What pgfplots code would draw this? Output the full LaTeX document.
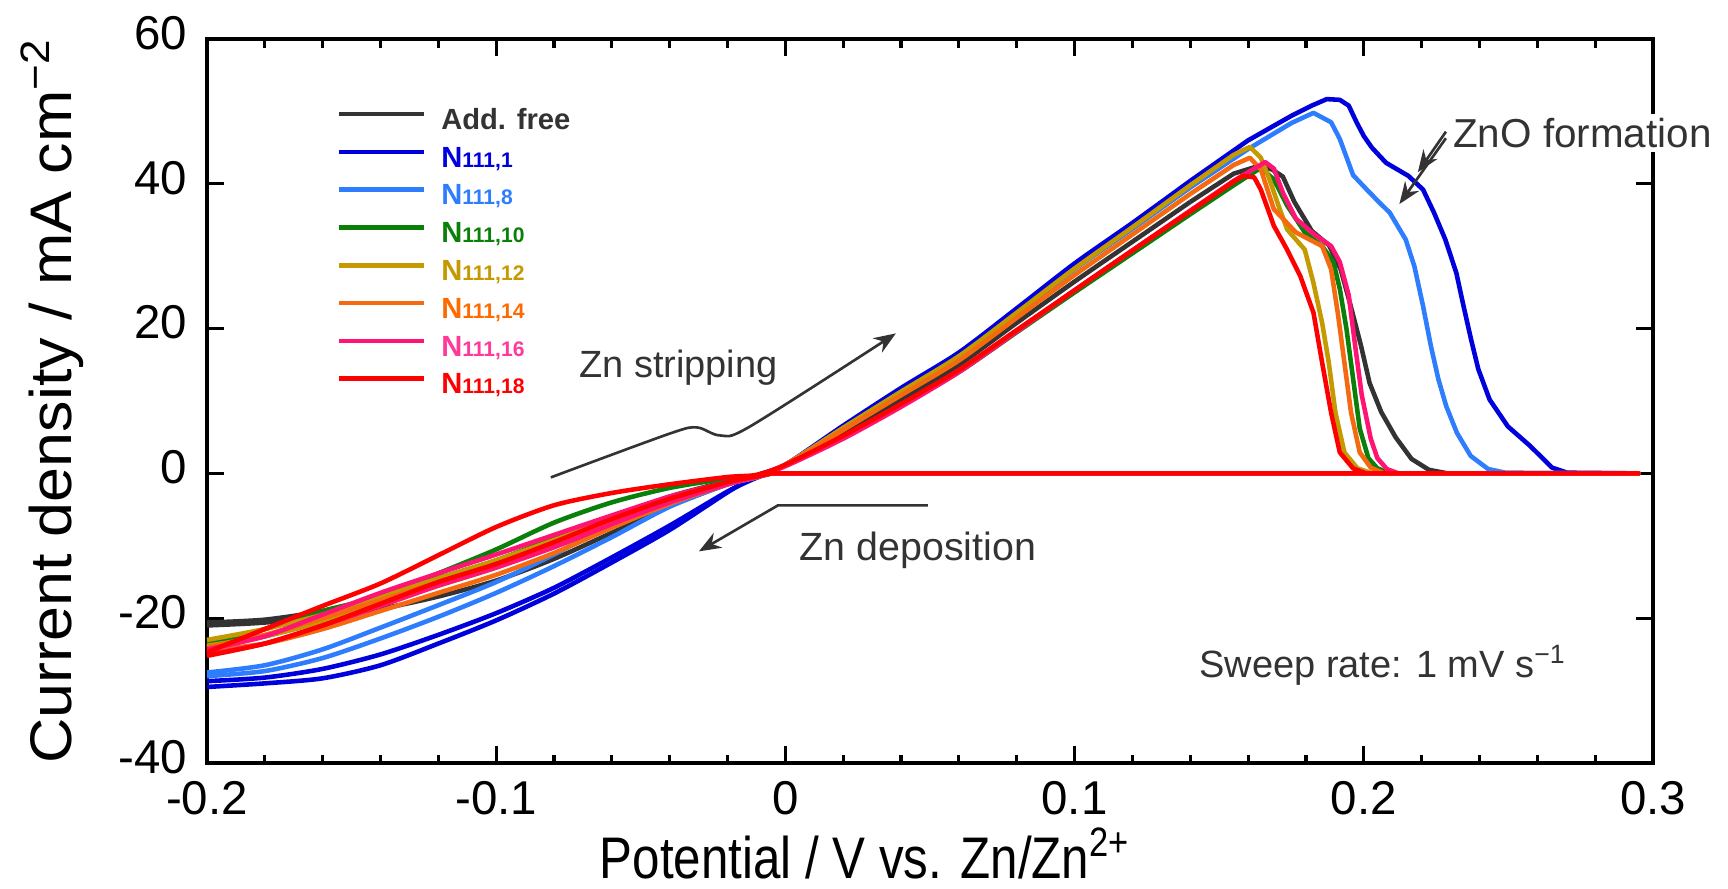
\documentclass[border=0pt]{standalone}
\usepackage{fontspec}
\setmainfont{Liberation Sans}
\usepackage{pgfplots}
\pgfplotsset{compat=1.18}
\usetikzlibrary{arrows.meta}

\definecolor{cAF}{HTML}{333333}
\definecolor{cN1}{HTML}{0000DD}
\definecolor{cN8}{HTML}{2E7DFF}
\definecolor{cN10}{HTML}{0A800A}
\definecolor{cN12}{HTML}{C49A00}
\definecolor{cN14}{HTML}{F56A10}
\definecolor{cN16}{HTML}{FF1473}
\definecolor{cN18}{HTML}{FF0000}
\definecolor{tN16}{HTML}{FF3A9A}
\definecolor{tN14}{HTML}{FF6A00}
\definecolor{annot}{HTML}{333333}

\newcommand\sub[1]{{\fontsize{6}{6}\selectfont #1}}

\begin{document}
\begin{tikzpicture}
\begin{axis}[
  at={(0,0)}, anchor=south west,
  scale only axis, width=14.46cm, height=7.24cm,
  xmin=-0.2, xmax=0.3, ymin=-40, ymax=60,
  xtick={-0.2,-0.1,0,0.1,0.2,0.3},
  xticklabels={-0.2,-0.1,0,0.1,0.2,0.3},
  minor x tick num=4,
  ytick={-40,-20,0,20,40,60},
  yticklabels={-40,-20,0,20,40,60},
  tick align=inside,
  major tick length=1.7mm, minor tick length=0.85mm,
  axis line style={line width=1.1pt},
  every tick/.style={line width=0.9pt, black},
  tick label style={font=\fontsize{13.5}{15}\selectfont},
  xticklabel style={anchor=base, yshift=-5.1mm},
  yticklabel style={inner sep=0pt, xshift=-1.9mm, yshift=0.6mm},
  label style={font=\fontsize{16.7}{19}\selectfont},
  xlabel={\scalebox{0.84}[1]{Potential / V vs. Zn/Zn\textsuperscript{2+}}},
  xlabel style={at={(axis description cs:0.455,-0.159)}, anchor=base},
  ylabel={\scalebox{1.07}[1]{Current density / mA cm\textsuperscript{−2}}},
  ylabel style={at={(axis description cs:-0.107,0.5)}, anchor=center},
  clip=false,
  every axis plot/.append style={no markers, line width=1.3pt, line join=round},
  legend cell align=left,
  legend image code/.code={\draw[#1] (0mm,1.05mm) -- (8.5mm,1.05mm);},
  legend style={at={(axis description cs:0.0892,0.9088)}, anchor=north west,
    draw=none, fill=none, inner sep=0pt, row sep=0pt, column sep=1.5mm,
    font=\fontsize{8.3}{9}\selectfont\bfseries,
    nodes={inner sep=0pt, text height=2.35mm, text depth=1.43mm}},
  sm/.style={smooth, tension=0.45},
]

% Add. free
\addplot[cAF, sm] coordinates {
 (-0.200,-21.0) (-0.180,-20.6) (-0.160,-19.7) (-0.140,-18.7) (-0.120,-17.0) (-0.100,-14.8)
 (-0.080,-11.8) (-0.060,-8.2) (-0.040,-4.5) (-0.020,-1.5) (-0.010,-0.5)
 (0.000,1.2) (0.020,5.6) (0.040,10.2) (0.060,15.0) (0.080,20.8) (0.100,26.5) (0.120,32.0)
 (0.140,37.5)};
\addlegendentry{\textcolor{cAF}{Add. free}}
\addplot[cAF, forget plot] coordinates {
 (0.140,37.5) (0.155,41.4) (0.1631,42.4)
 (0.1682,42.0) (0.1720,41.0) (0.1760,37.5) (0.1820,33.5) (0.1880,31.5) (0.1920,28.2)
 (0.1955,23.1) (0.1990,17.7) (0.2020,12.5) (0.2060,8.5) (0.2110,5.0) (0.2165,2.0)
 (0.2225,0.5) (0.2290,0) (0.295,0) (-0.005,0)};
\addplot[cAF, sm, forget plot] coordinates {
 (-0.005,0) (-0.010,-0.4) (-0.020,-1.1) (-0.040,-3.2) (-0.060,-6.2) (-0.080,-9.3) (-0.100,-12.2)
 (-0.120,-14.8) (-0.140,-17.0) (-0.160,-19.0) (-0.180,-20.2) (-0.200,-20.6)};

% N111,1
\addplot[cN1, sm] coordinates {
 (-0.200,-29.5) (-0.180,-29.0) (-0.160,-28.3) (-0.140,-26.5) (-0.120,-23.5) (-0.100,-20.3)
 (-0.080,-16.6) (-0.060,-12.3) (-0.040,-7.8) (-0.020,-2.6) (-0.010,-0.3)
 (0.000,1.2) (0.020,6.6) (0.040,11.8) (0.060,16.7) (0.080,22.8) (0.100,29.0) (0.120,34.6)
 (0.140,40.4)};
\addlegendentry{\textcolor{cN1}{N\sub{111,1}}}
\addplot[cN1, forget plot] coordinates {
 (0.140,40.4) (0.160,46.0) (0.175,49.4) (0.182,50.8) (0.1872,51.7) (0.1917,51.6) (0.1948,50.8)
 (0.1975,48.5) (0.2000,46.6) (0.2028,45.0) (0.2077,42.9) (0.2154,41.1) (0.2205,39.2)
 (0.2243,36.0) (0.2282,32.3) (0.2320,27.7) (0.2345,23.1) (0.2371,18.5) (0.2396,14.4)
 (0.2435,10.2) (0.2498,6.5) (0.2575,3.8) (0.2651,0.8) (0.2703,0.1) (0.295,0) (-0.005,0)};
\addplot[cN1, sm, forget plot] coordinates {
 (-0.005,0) (-0.010,-0.6) (-0.020,-2.5) (-0.040,-7.2) (-0.060,-11.6) (-0.080,-15.8) (-0.100,-19.3)
 (-0.120,-22.3) (-0.140,-25.0) (-0.160,-27.0) (-0.180,-28.2) (-0.200,-28.7)};

% N111,8
\addplot[cN8, sm] coordinates {
 (-0.200,-28.0) (-0.180,-27.3) (-0.160,-25.5) (-0.140,-22.8) (-0.120,-19.8) (-0.100,-16.5)
 (-0.080,-12.8) (-0.060,-8.8) (-0.040,-4.6) (-0.020,-1.5) (-0.010,-0.5)
 (0.000,1.2) (0.020,6.2) (0.040,11.2) (0.060,16.0) (0.080,22.0) (0.100,28.2) (0.120,33.8)
 (0.140,39.5)};
\addlegendentry{\textcolor{cN8}{N\sub{111,8}}}
\addplot[cN8, forget plot] coordinates {
 (0.140,39.5) (0.160,44.8) (0.175,48.4) (0.1826,49.8)
 (0.1887,48.5) (0.1917,46.2) (0.1963,41.2) (0.2008,39.3) (0.2047,37.7) (0.2090,36.0)
 (0.2145,32.3) (0.2175,28.6) (0.2205,23.1) (0.2232,17.6) (0.2258,13.0) (0.2285,9.3)
 (0.2322,5.6) (0.2370,2.4) (0.2430,0.6) (0.2490,0.1) (0.295,0) (-0.005,0)};
\addplot[cN8, sm, forget plot] coordinates {
 (-0.005,0) (-0.010,-0.4) (-0.020,-1.2) (-0.040,-3.6) (-0.060,-7.0) (-0.080,-11.2) (-0.100,-15.0)
 (-0.120,-18.2) (-0.140,-21.3) (-0.160,-24.3) (-0.180,-26.5) (-0.200,-27.5)};

% N111,10
\addplot[cN10, sm] coordinates {
 (-0.200,-23.5) (-0.180,-21.5) (-0.160,-19.0) (-0.140,-17.0) (-0.120,-13.8) (-0.100,-10.5)
 (-0.080,-6.8) (-0.060,-4.0) (-0.040,-2.0) (-0.020,-0.7) (-0.010,-0.3)
 (0.000,1.1) (0.020,5.0) (0.040,9.4) (0.060,14.0) (0.080,19.5) (0.100,25.0) (0.120,30.4)
 (0.140,35.8)};
\addlegendentry{\textcolor{cN10}{N\sub{111,10}}}
\addplot[cN10, forget plot] coordinates {
 (0.140,35.8) (0.155,39.8) (0.1644,42.2)
 (0.1689,40.6) (0.1735,37.0) (0.1796,33.3) (0.1856,31.4) (0.1895,29.2) (0.1917,25.5)
 (0.1940,20.0) (0.1963,13.1) (0.1986,6.2) (0.2016,2.1) (0.2047,0.7) (0.2090,0)
 (0.295,0) (-0.005,0)};
\addplot[cN10, sm, forget plot] coordinates {
 (-0.005,0) (-0.010,-0.4) (-0.020,-1.2) (-0.040,-3.3) (-0.060,-6.0) (-0.080,-9.0) (-0.100,-12.0)
 (-0.120,-14.5) (-0.140,-17.3) (-0.160,-20.0) (-0.180,-22.5) (-0.200,-24.0)};

% N111,12
\addplot[cN12, sm] coordinates {
 (-0.200,-23.0) (-0.180,-21.5) (-0.160,-19.5) (-0.140,-17.0) (-0.120,-14.5) (-0.100,-12.0)
 (-0.080,-9.2) (-0.060,-6.3) (-0.040,-3.6) (-0.020,-1.4) (-0.010,-0.5)
 (0.000,1.2) (0.020,6.3) (0.040,11.3) (0.060,16.2) (0.080,22.2) (0.100,28.3) (0.120,34.0)
 (0.140,39.8)};
\addlegendentry{\textcolor{cN12}{N\sub{111,12}}}
\addplot[cN12, forget plot] coordinates {
 (0.140,39.8) (0.155,44.0) (0.1606,45.1)
 (0.1644,43.6) (0.1674,40.6) (0.1705,37.0) (0.1735,33.7) (0.1796,30.9) (0.1826,26.3)
 (0.1856,20.8) (0.1879,15.3) (0.1902,8.4) (0.1933,2.9) (0.1978,0.7) (0.2030,0)
 (0.295,0) (-0.005,0)};
\addplot[cN12, sm, forget plot] coordinates {
 (-0.005,0) (-0.010,-0.5) (-0.020,-1.4) (-0.040,-3.8) (-0.060,-6.8) (-0.080,-10.0) (-0.100,-13.0)
 (-0.120,-15.5) (-0.140,-18.0) (-0.160,-20.5) (-0.180,-22.5) (-0.200,-23.8)};

% N111,14
\addplot[cN14, sm] coordinates {
 (-0.200,-24.5) (-0.180,-23.5) (-0.160,-21.5) (-0.140,-19.0) (-0.120,-16.5) (-0.100,-14.0)
 (-0.080,-11.0) (-0.060,-7.5) (-0.040,-4.2) (-0.020,-1.5) (-0.010,-0.5)
 (0.000,1.2) (0.020,6.0) (0.040,10.8) (0.060,15.6) (0.080,21.5) (0.100,27.4) (0.120,33.0)
 (0.140,38.6)};
\addlegendentry{\textcolor{tN14}{N\sub{111,14}}}
\addplot[cN14, forget plot] coordinates {
 (0.140,38.6) (0.155,42.6) (0.1606,43.6)
 (0.1644,42.0) (0.1689,36.5) (0.1765,33.3) (0.1856,31.4) (0.1887,28.2) (0.1910,22.2)
 (0.1933,15.3) (0.1956,8.4) (0.1986,2.9) (0.2024,0.8) (0.2070,0)
 (0.295,0) (-0.005,0)};
\addplot[cN14, sm, forget plot] coordinates {
 (-0.005,0) (-0.010,-0.4) (-0.020,-1.3) (-0.040,-3.6) (-0.060,-6.5) (-0.080,-9.6) (-0.100,-12.5)
 (-0.120,-15.0) (-0.140,-17.5) (-0.160,-20.0) (-0.180,-22.3) (-0.200,-24.0)};

% N111,16
\addplot[cN16, sm] coordinates {
 (-0.200,-24.3) (-0.180,-22.5) (-0.160,-19.5) (-0.140,-16.5) (-0.120,-13.8) (-0.100,-11.2)
 (-0.080,-8.5) (-0.060,-5.8) (-0.040,-3.2) (-0.020,-1.2) (-0.010,-0.4)
 (0.000,1.0) (0.020,4.8) (0.040,9.2) (0.060,14.0) (0.080,19.6) (0.100,25.3) (0.120,30.8)
 (0.140,36.3)};
\addlegendentry{\textcolor{tN16}{N\sub{111,16}}}
\addplot[cN16, forget plot] coordinates {
 (0.140,36.3) (0.155,40.4) (0.1659,43.0)
 (0.1689,42.1) (0.1720,38.8) (0.1765,35.2) (0.1826,33.1) (0.1887,31.4) (0.1917,29.2)
 (0.1948,24.6) (0.1970,17.7) (0.1993,10.8) (0.2024,4.8) (0.2047,2.1) (0.2080,0.6)
 (0.2120,0) (0.295,0) (-0.005,0)};
\addplot[cN16, sm, forget plot] coordinates {
 (-0.005,0) (-0.010,-0.5) (-0.020,-1.5) (-0.040,-4.0) (-0.060,-7.0) (-0.080,-10.2) (-0.100,-13.0)
 (-0.120,-15.5) (-0.140,-18.3) (-0.160,-21.0) (-0.180,-23.5) (-0.200,-25.0)};

% N111,18
\addplot[cN18, sm] coordinates {
 (-0.200,-24.7) (-0.180,-21.5) (-0.160,-18.3) (-0.140,-15.2) (-0.120,-11.3) (-0.100,-7.4)
 (-0.080,-4.4) (-0.060,-2.7) (-0.040,-1.5) (-0.020,-0.5) (-0.010,-0.2)
 (0.000,1.2) (0.020,5.2) (0.040,9.6) (0.060,14.3) (0.080,19.8) (0.100,25.3) (0.120,30.8)
 (0.140,36.2)};
\addlegendentry{\textcolor{cN18}{N\sub{111,18}}}
\addplot[cN18, forget plot] coordinates {
 (0.140,36.2) (0.155,40.3) (0.1583,41.1) (0.1621,40.9)
 (0.1644,39.2) (0.1689,34.2) (0.1735,30.9) (0.1780,27.3) (0.1826,22.2) (0.1856,15.3)
 (0.1887,8.4) (0.1917,2.9) (0.1963,0.7) (0.2008,0) (0.295,0) (-0.005,0)};
\addplot[cN18, sm, forget plot] coordinates {
 (-0.005,0) (-0.010,-0.4) (-0.020,-1.2) (-0.040,-3.5) (-0.060,-6.3) (-0.080,-9.5) (-0.100,-12.5)
 (-0.120,-15.0) (-0.140,-18.0) (-0.160,-21.0) (-0.180,-23.5) (-0.200,-25.2)};

% annotations
\draw[annot, line width=0.75pt, -{Stealth[length=2.2mm, width=1.7mm]}]
  plot[smooth, tension=0.5] coordinates {(axis cs:-0.0811,-0.55) (axis cs:-0.040,5.5)
  (axis cs:-0.0306,6.35) (axis cs:-0.0226,5.25) (axis cs:-0.0122,6.49) (axis cs:0.0382,19.34)};
\draw[annot, line width=0.75pt, -{Stealth[length=2.2mm, width=1.7mm]}]
  (axis cs:0.0493,-4.42) -- (axis cs:-0.0026,-4.42) -- (axis cs:-0.0299,-10.77);
\node[annot, anchor=base west, inner sep=0pt, font=\fontsize{10.8}{13}\selectfont]
  at (axis cs:-0.0715,13.2) {Zn stripping};
\node[annot, anchor=base west, inner sep=0pt, font=\fontsize{11.2}{13}\selectfont]
  at (axis cs:0.0047,-12.0) {Zn deposition};
\node[annot, anchor=base west, inner sep=0pt, font=\fontsize{10.8}{13}\selectfont]
  at (axis cs:0.143,-28.2) {Sweep rate: 1 mV s\textsuperscript{−1}};
\coordinate (znoT) at (axis cs:0.2307,45.0);
\coordinate (znoA1) at (axis cs:0.2284,47.2);
\coordinate (znoB1) at (axis cs:0.2187,41.6);
\coordinate (znoA2) at (axis cs:0.2284,46.3);
\coordinate (znoB2) at (axis cs:0.2123,37.2);
\end{axis}
\node[annot, anchor=base west, fill=white, inner sep=0.4mm, font=\fontsize{11.5}{13}\selectfont]
  at ([xshift=-0.4mm]znoT) {ZnO formation};
\draw[annot, line width=0.75pt, -{Stealth[length=2.2mm, width=1.7mm]}] (znoA1) -- (znoB1);
\draw[annot, line width=0.75pt, -{Stealth[length=2.2mm, width=1.7mm]}] (znoA2) -- (znoB2);
\pgfresetboundingbox
\path[use as bounding box] (-2.07,-1.25) rectangle (15.21,7.63);
\end{tikzpicture}
\end{document}
